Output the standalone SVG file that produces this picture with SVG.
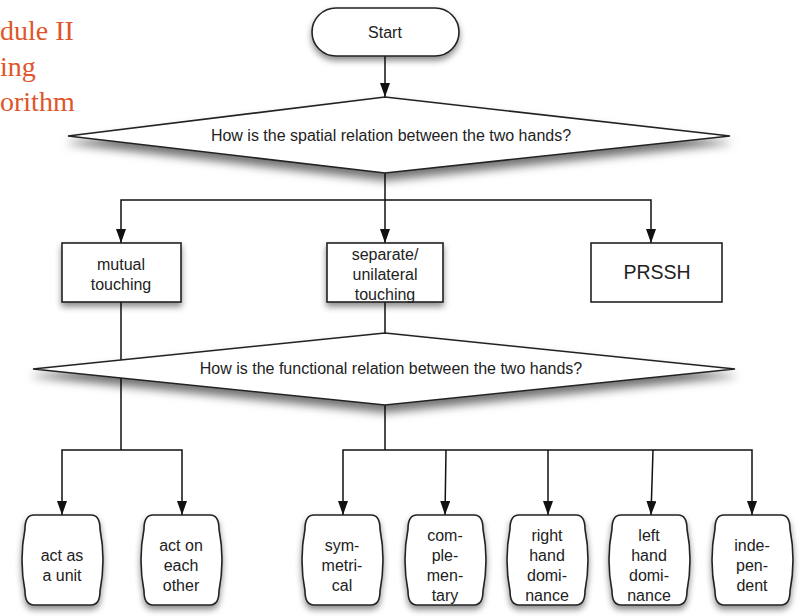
<svg xmlns="http://www.w3.org/2000/svg" width="809" height="616" viewBox="0 0 809 616">
<style>
.shape{fill:#fff;stroke:#222;stroke-width:1.6}
.t{font-family:"Liberation Sans",Arial,sans-serif;font-size:16px;fill:#222;text-anchor:middle}
.q{font-family:"Liberation Sans",Arial,sans-serif;font-size:16px;fill:#222;text-anchor:middle}
.c{fill:none;stroke:#111;stroke-width:1.5}
.o{font-family:"Liberation Serif","Times New Roman",serif;font-size:28px;fill:#e0552a}
</style>
<defs>
<marker id="ah" markerWidth="14" markerHeight="10" refX="14" refY="5" orient="auto-start-reverse" markerUnits="userSpaceOnUse" viewBox="0 0 14 10">
<path d="M0,0 L14,5 L0,10 Z" fill="#111"/>
</marker>
<filter id="sh" x="-10%" y="-20%" width="120%" height="160%">
<feDropShadow dx="0" dy="4" stdDeviation="3" flood-color="#000" flood-opacity="0.45"/>
</filter>
<filter id="shd" x="-10%" y="-30%" width="120%" height="180%">
<feDropShadow dx="0" dy="7" stdDeviation="5" flood-color="#000" flood-opacity="0.55"/>
</filter>
<path id="barrel" d="M12,0 H69 Q78,0 78,14 Q84,45 78,76 Q78,90 69,90 H12 Q3,90 3,76 Q-3,45 3,14 Q3,0 12,0 Z"/>
</defs>
<rect width="809" height="616" fill="#fff"/>
<g id="title">
<text class="o" x="0" y="40">dule II</text>
<text class="o" x="0" y="76">ing</text>
<text class="o" x="0" y="111">orithm</text>
</g>
<g id="connectors">
<line class="c" x1="385" y1="56" x2="385" y2="97" marker-end="url(#ah)"/>
<polyline class="c" points="385,173 385,200"/>
<polyline class="c" points="121,243 121,200 651,200 651,243" marker-start="url(#ah)" marker-end="url(#ah)"/>
<line class="c" x1="385" y1="200" x2="385" y2="243" marker-end="url(#ah)"/>
<line class="c" x1="121" y1="302" x2="121" y2="450"/>
<line class="c" x1="385" y1="302" x2="385" y2="334"/>
<polyline class="c" points="62,515 62,450 182,450 182,515" marker-start="url(#ah)" marker-end="url(#ah)"/>
<line class="c" x1="385" y1="405" x2="385" y2="450"/>
<polyline class="c" points="343,515 343,450 752,450 752,515" marker-start="url(#ah)" marker-end="url(#ah)"/>
<line class="c" x1="446" y1="450" x2="445" y2="515" marker-end="url(#ah)"/>
<line class="c" x1="548" y1="450" x2="548" y2="515" marker-end="url(#ah)"/>
<line class="c" x1="653" y1="450" x2="651" y2="515" marker-end="url(#ah)"/>
</g>
<g id="start">
<rect class="shape" x="312" y="8" width="147" height="48" rx="24" filter="url(#sh)"/>
<text class="t" x="385" y="38">Start</text>
</g>
<g id="q1">
<polygon class="shape" points="385,97 730,136 385,173 68,136" filter="url(#shd)"/>
<text class="q" x="391" y="141">How is the spatial relation between the two hands?</text>
</g>
<g id="mutual">
<rect class="shape" x="62" y="243" width="119" height="59" filter="url(#sh)"/>
<text class="t" x="121" y="270">mutual</text>
<text class="t" x="121" y="290">touching</text>
</g>
<g id="separate">
<rect class="shape" x="327" y="243" width="116" height="59" filter="url(#sh)"/>
<text class="t" x="385" y="260">separate/</text>
<text class="t" x="385" y="280">unilateral</text>
<text class="t" x="385" y="300">touching</text>
</g>
<g id="prssh">
<rect class="shape" x="591" y="243" width="131" height="59"/>
<text class="t" x="657" y="279" style="font-size:19.5px">PRSSH</text>
</g>
<g id="q2">
<polygon class="shape" points="385,333 735,369 385,405 33,369" filter="url(#shd)"/>
<text class="q" x="391" y="374">How is the functional relation between the two hands?</text>
</g>
<g id="unit">
<use href="#barrel" class="shape" x="22" y="515" filter="url(#sh)"/>
<text class="t" x="62" y="561">act as</text>
<text class="t" x="62" y="581">a unit</text>
</g>
<g id="eachother">
<use href="#barrel" class="shape" x="141" y="515" filter="url(#sh)"/>
<text class="t" x="181" y="551">act on</text>
<text class="t" x="181" y="571">each</text>
<text class="t" x="181" y="591">other</text>
</g>
<g id="symmetrical">
<use href="#barrel" class="shape" x="302" y="515" filter="url(#sh)"/>
<text class="t" x="342" y="551">sym-</text>
<text class="t" x="342" y="571">metri-</text>
<text class="t" x="342" y="591">cal</text>
</g>
<g id="complementary">
<use href="#barrel" class="shape" x="405" y="515" filter="url(#sh)"/>
<text class="t" x="445" y="541">com-</text>
<text class="t" x="445" y="561">ple-</text>
<text class="t" x="445" y="581">men-</text>
<text class="t" x="445" y="601">tary</text>
</g>
<g id="right">
<use href="#barrel" class="shape" x="507" y="515" filter="url(#sh)"/>
<text class="t" x="547" y="541">right</text>
<text class="t" x="547" y="561">hand</text>
<text class="t" x="547" y="581">domi-</text>
<text class="t" x="547" y="601">nance</text>
</g>
<g id="left">
<use href="#barrel" class="shape" x="609" y="515" filter="url(#sh)"/>
<text class="t" x="649" y="541">left</text>
<text class="t" x="649" y="561">hand</text>
<text class="t" x="649" y="581">domi-</text>
<text class="t" x="649" y="601">nance</text>
</g>
<g id="independent">
<use href="#barrel" class="shape" x="712" y="515" filter="url(#sh)"/>
<text class="t" x="752" y="551">inde-</text>
<text class="t" x="752" y="571">pen-</text>
<text class="t" x="752" y="591">dent</text>
</g>
</svg>
